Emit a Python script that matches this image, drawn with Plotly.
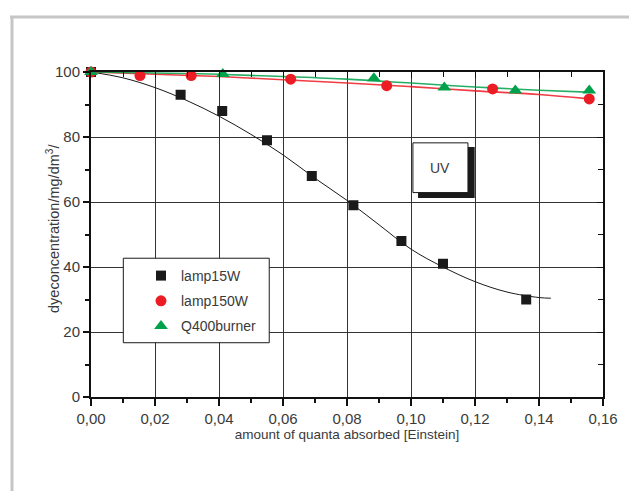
import plotly.graph_objects as go

# ---- data ----
x_lamp15 = [0.000, 0.028, 0.041, 0.055, 0.069, 0.082, 0.097, 0.110, 0.136]
y_lamp15 = [100, 93, 88, 79, 68, 59, 48, 41, 30]

x_lamp150 = [0.000, 0.0153, 0.0313, 0.0624, 0.0924, 0.1255, 0.1557]
y_lamp150 = [100, 98.9, 98.9, 97.8, 95.8, 94.8, 91.7]

x_q400 = [0.000, 0.0412, 0.0884, 0.1104, 0.1326, 0.1557]
y_q400 = [100, 99.4, 98.1, 95.2, 94.3, 94.3]

# fitted curves
fit15_x = [0, 0.01, 0.02, 0.03, 0.04, 0.05, 0.06, 0.07, 0.08, 0.09, 0.10, 0.11, 0.12, 0.13, 0.14, 0.1437]
fit15_y = [100, 98.2, 95.2, 91.2, 86.4, 80.8, 74.5, 67.3, 60.5, 53.0, 45.5, 40.0, 35.5, 32.3, 30.6, 30.4]
fit150_x = [0, 0.02, 0.04, 0.06, 0.08, 0.10, 0.12, 0.14, 0.155]
fit150_y = [100, 99.3, 98.6, 97.6, 96.6, 95.5, 94.2, 93.1, 91.8]
fitq_x = [0, 0.02, 0.04, 0.06, 0.08, 0.10, 0.12, 0.14, 0.155]
fitq_y = [100, 99.7, 99.3, 98.6, 97.8, 96.6, 95.4, 94.4, 93.8]

x_ticks = [0, 0.02, 0.04, 0.06, 0.08, 0.10, 0.12, 0.14, 0.16]
x_ticklabels = ["0,00", "0,02", "0,04", "0,06", "0,08", "0,10", "0,12", "0,14", "0,16"]
y_ticks = [0, 20, 40, 60, 80, 100]

FONT = "Liberation Sans, Arial, sans-serif"
TXT = "#3a3a3a"
BLACK = "#1a1a1a"
RED = "#ec1c24"
GREEN = "#00a14b"

fig = go.Figure()

fig.add_trace(go.Scatter(x=fit15_x, y=fit15_y, mode="lines", line=dict(color=BLACK, width=1, shape="spline"),
                         showlegend=False, hoverinfo="skip", cliponaxis=False))
fig.add_trace(go.Scatter(x=fit150_x, y=fit150_y, mode="lines", line=dict(color=RED, width=1.6, shape="spline"),
                         opacity=0.85, showlegend=False, hoverinfo="skip", cliponaxis=False))
fig.add_trace(go.Scatter(x=fitq_x, y=fitq_y, mode="lines", line=dict(color=GREEN, width=1.6, shape="spline"),
                         opacity=0.85, showlegend=False, hoverinfo="skip", cliponaxis=False))

fig.add_trace(go.Scatter(x=x_lamp15, y=y_lamp15, mode="markers", name="lamp15W", legendgroup="a",
                         marker=dict(symbol="square", size=10, color=BLACK), cliponaxis=False))
fig.add_trace(go.Scatter(x=x_lamp150, y=y_lamp150, mode="markers", name="lamp150W", legendgroup="b",
                         marker=dict(symbol="circle", size=11, color=RED), cliponaxis=False))
fig.add_trace(go.Scatter(x=x_q400, y=y_q400, mode="markers", name="Q400burner", legendgroup="c",
                         marker=dict(symbol="triangle-up", size=12, color=GREEN), cliponaxis=False))
# helper trace so the mirrored top/right axes are drawn
fig.add_trace(go.Scatter(x=[0], y=[0], xaxis="x2", yaxis="y2", mode="markers",
                         marker=dict(opacity=0), showlegend=False, hoverinfo="skip"))

W, H = 629, 491
L, R, T, B = 91, 26, 72, 94
pw, ph = W - L - R, H - T - B


def px(xp):
    return (xp - L) / pw


def py(yp):
    return (H - B - yp) / ph


shapes = [
    # page frame (grey)
    dict(type="line", xref="paper", yref="paper", x0=px(10), x1=px(629), y0=py(17), y1=py(17),
         line=dict(color="#c6c6c6", width=3)),
    dict(type="line", xref="paper", yref="paper", x0=px(12), x1=px(12), y0=py(16), y1=py(491),
         line=dict(color="#c6c6c6", width=3)),
    # UV label box with shadow
    dict(type="rect", xref="x", yref="y", x0=0.1022, x1=0.1199, y0=61.2, y1=76.9,
         fillcolor="#1a1a1a", line=dict(width=0), layer="above"),
    dict(type="rect", xref="x", yref="y", x0=0.1006, x1=0.1178, y0=62.9, y1=78.2,
         fillcolor="white", line=dict(color="#1a1a1a", width=1), layer="above"),
    # legend frame
    dict(type="rect", xref="x", yref="y", x0=0.0101, x1=0.0557, y0=16.7, y1=42.7,
         fillcolor="white", line=dict(color="#1a1a1a", width=1), layer="above"),
]

fig.update_layout(
    width=W, height=H,
    margin=dict(l=L, r=R, t=T, b=B, pad=0),
    paper_bgcolor="white", plot_bgcolor="white",
    font=dict(family=FONT, size=14, color=TXT),
    shapes=shapes,
    showlegend=True,
    legend=dict(x=px(141), y=py(260), xanchor="left", yanchor="top",
                bgcolor="rgba(0,0,0,0)", borderwidth=0, tracegroupgap=4,
                font=dict(family=FONT, size=14, color=TXT)),
    annotations=[
        dict(text="UV", x=0.1092, y=70.5, xref="x", yref="y", showarrow=False,
             font=dict(family=FONT, size=14, color=TXT)),
        dict(text="dyeconcentration/mg/dm<sup>3</sup>/", x=px(42), y=py(229), xref="paper", yref="paper",
             textangle=-90, showarrow=False, font=dict(family=FONT, size=14.5, color=TXT)),
    ],
    xaxis=dict(range=[0, 0.16], tickvals=x_ticks, ticktext=x_ticklabels,
               showline=True, linecolor="#111", linewidth=2, ticks="outside", ticklen=7,
               tickcolor="#111", tickwidth=1.5,
               minor=dict(dtick=0.01, ticks="outside", ticklen=4, tickcolor="#111", showgrid=False),
               showgrid=True, gridcolor="#333", gridwidth=1, zeroline=False,
               tickfont=dict(family=FONT, size=15, color=TXT),
               title=dict(text="amount of quanta absorbed [Einstein]", standoff=3,
                          font=dict(family=FONT, size=13.5, color=TXT))),
    yaxis=dict(range=[0, 100], tickvals=y_ticks,
               showline=True, linecolor="#111", linewidth=2, ticks="outside", ticklen=6,
               tickcolor="#111", tickwidth=1.5,
               minor=dict(dtick=10, ticks="outside", ticklen=4, tickcolor="#111", showgrid=False),
               showgrid=True, gridcolor="#333", gridwidth=1, zeroline=False,
               tickfont=dict(family=FONT, size=15, color=TXT)),
    xaxis2=dict(range=[0, 0.16], overlaying="x", side="top", anchor="y", showticklabels=False,
                showline=True, linecolor="#111", linewidth=1.5, ticks="inside", ticklen=6, dtick=0.02,
                tick0=0, tickcolor="#111",
                minor=dict(dtick=0.01, ticks="inside", ticklen=5, tickcolor="#111", showgrid=False),
                showgrid=False, zeroline=False),
    yaxis2=dict(range=[0, 100], overlaying="y", side="right", anchor="x", showticklabels=False,
                showline=True, linecolor="#111", linewidth=2, ticks="inside", ticklen=6, dtick=20,
                tick0=0, tickcolor="#111",
                minor=dict(dtick=10, ticks="inside", ticklen=5, tickcolor="#111", showgrid=False),
                showgrid=False, zeroline=False),
)

fig.write_html("out.html")
